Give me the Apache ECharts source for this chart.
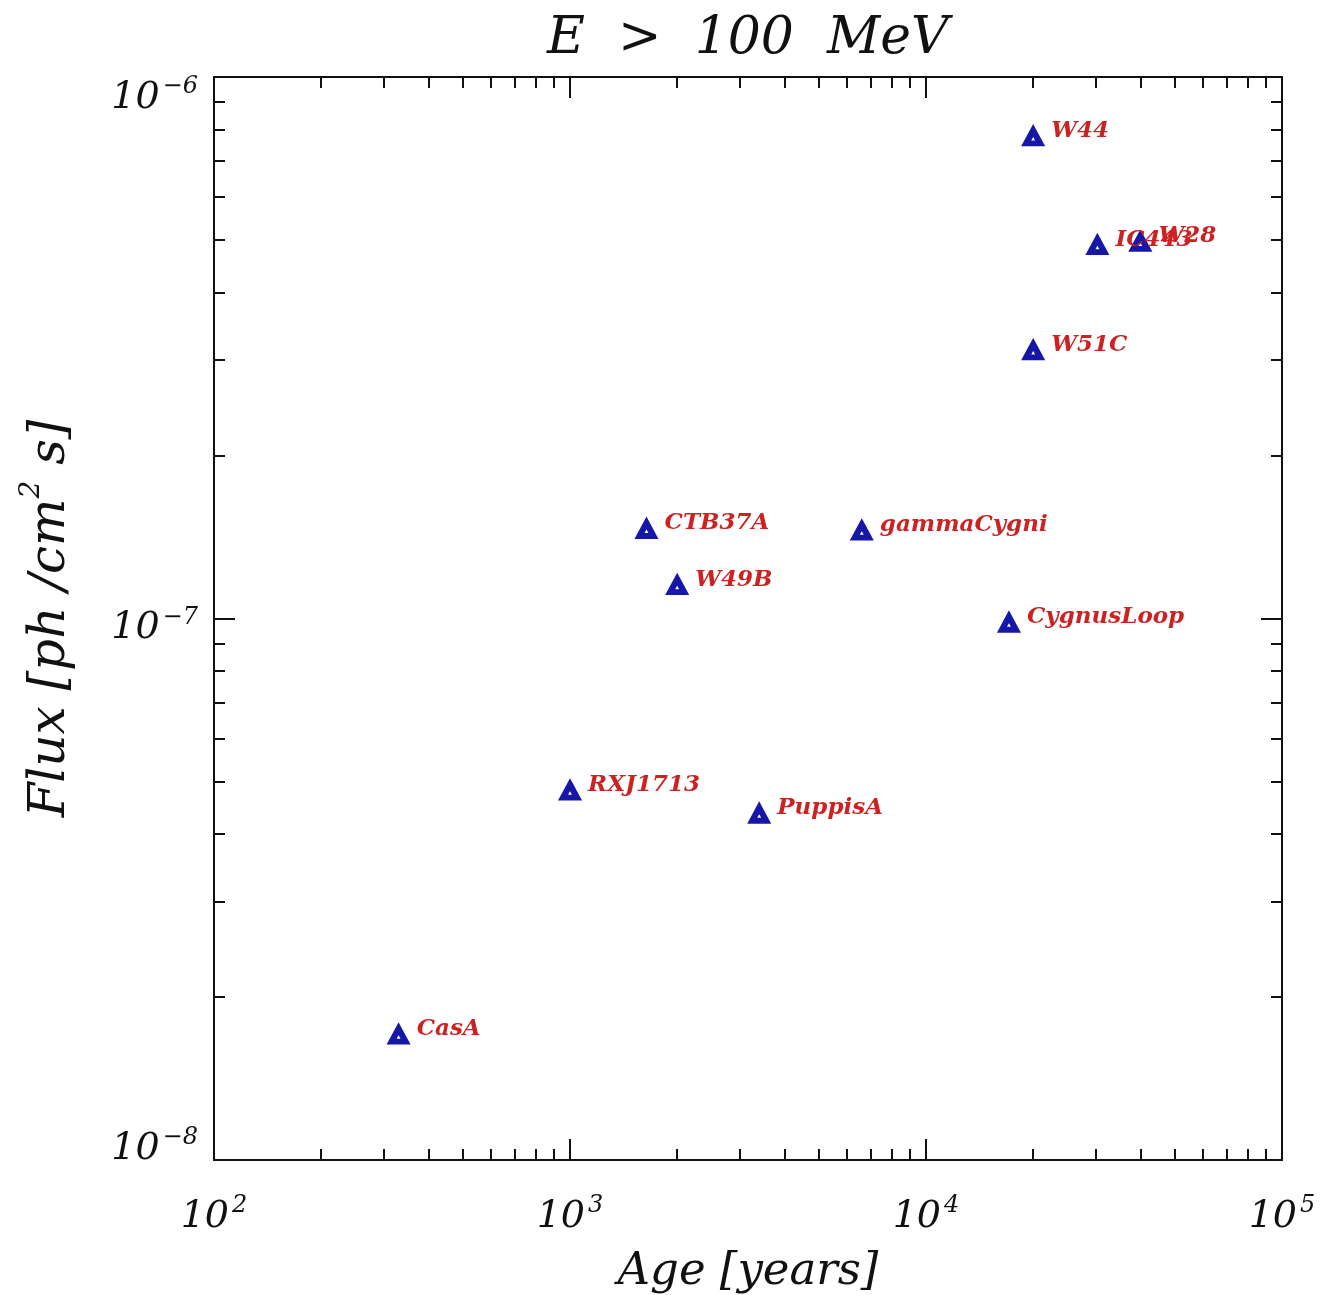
<!DOCTYPE html>
<html>
<head>
<meta charset="utf-8">
<title>E &gt; 100 MeV</title>
<script src="https://cdn.jsdelivr.net/npm/echarts@6/dist/echarts.min.js"></script>
<style>
  html, body { margin: 0; padding: 0; background: #ffffff; }
  #chart { width: 1338px; height: 1295px; }
</style>
</head>
<body>
<div id="chart"></div>
<script>
// Supernova remnants: age (years) vs. gamma-ray flux above 100 MeV (ph / cm^2 s)
const names  = ['CasA', 'RXJ1713', 'PuppisA', 'CTB37A', 'W49B', 'gammaCygni', 'CygnusLoop', 'W44', 'IC443', 'W28', 'W51C'];
const ages   = [330, 1000, 3400, 1640, 2000, 6600, 17100, 20000, 30300, 40000, 20000];
const fluxes = [1.7e-8, 4.8e-8, 4.35e-8, 1.46e-7, 1.15e-7, 1.45e-7, 9.8e-8, 7.75e-7, 4.88e-7, 4.95e-7, 3.12e-7];

// Tick values of the log axes
const xMajorTicks = [1e2, 1e3, 1e4, 1e5];
const xMinorTicks = [200, 300, 400, 500, 600, 700, 800, 900,
                     2000, 3000, 4000, 5000, 6000, 7000, 8000, 9000,
                     20000, 30000, 40000, 50000, 60000, 70000, 80000, 90000];
const yMajorTicks = [1e-8, 1e-7, 1e-6];
const yMinorTicks = [2e-8, 3e-8, 4e-8, 5e-8, 6e-8, 7e-8, 8e-8, 9e-8,
                     2e-7, 3e-7, 4e-7, 5e-7, 6e-7, 7e-7, 8e-7, 9e-7];

const FONT = 'DejaVu Serif';
const INK = '#111111';

function expOf(v) { return Math.round(Math.log10(v)); }
function expText(e) { return e < 0 ? '\u2212' + (-e) : String(e); }

// power-of-ten labels: "10" with a raised exponent; the gN styles are blank
// spacer lines used to nudge the y labels up or down against their ticks
const powRich = {
  b:   { fontFamily: FONT, fontStyle: 'italic', fontSize: 38, color: INK, lineHeight: 42, verticalAlign: 'bottom' },
  s:   { fontFamily: FONT, fontStyle: 'italic', fontSize: 24, color: INK, lineHeight: 42, verticalAlign: 'top', padding: [0, 0, 0, 3] },
  g38: { fontSize: 10, lineHeight: 38 },
  g16: { fontSize: 10, lineHeight: 16 },
  g26: { fontSize: 10, lineHeight: 26 }
};

const nameRich = {
  n: { fontFamily: FONT, fontStyle: 'italic', fontSize: 50, color: INK, lineHeight: 58, verticalAlign: 'bottom' },
  p: { fontFamily: FONT, fontStyle: 'italic', fontSize: 28, color: INK, lineHeight: 58, verticalAlign: 'top' }
};

const grid = { left: 214, top: 77, width: 1068, height: 1083, containLabel: false, outerBoundsMode: 'none' };

function frameAxis(base, extra) { return Object.assign({}, base, extra); }

const xBase = { type: 'log', logBase: 10, min: 100, max: 100000, gridIndex: 0, splitLine: { show: false }, axisPointer: { show: false } };
const yBase = { type: 'log', logBase: 10, min: 1e-8, max: 1e-6, gridIndex: 0, splitLine: { show: false }, axisPointer: { show: false } };
const line = { show: true, onZero: false, lineStyle: { color: INK, width: 2 } };
const noLine = { show: false };
const majorTick = { show: true, inside: true, length: 21, lineStyle: { color: INK, width: 2 }, customValues: xMajorTicks };
const minorTick = { show: true, inside: true, length: 11, lineStyle: { color: INK, width: 2 }, customValues: xMinorTicks };

const xAxes = [
  frameAxis(xBase, {
    position: 'bottom', axisLine: line,
    axisTick: majorTick,
    axisLabel: {
      show: true, margin: 34, rich: powRich, customValues: xMajorTicks,
      formatter: v => '{b|10}{s|' + expText(expOf(v)) + '}'
    },
    name: 'Age [years]', nameLocation: 'middle', nameGap: 90,
    nameTextStyle: { fontFamily: FONT, fontStyle: 'italic', fontSize: 45, color: INK }
  }),
  frameAxis(xBase, { position: 'bottom', axisLine: noLine, axisLabel: { show: false }, axisTick: minorTick }),
  frameAxis(xBase, { position: 'top', axisLine: line, axisLabel: { show: false }, axisTick: majorTick }),
  frameAxis(xBase, { position: 'top', axisLine: noLine, axisLabel: { show: false }, axisTick: minorTick })
];

const yMajor = Object.assign({}, majorTick, { customValues: yMajorTicks });
const yMinor = Object.assign({}, minorTick, { customValues: yMinorTicks });

const yAxes = [
  frameAxis(yBase, {
    position: 'left', axisLine: line,
    axisTick: yMajor,
    axisLabel: {
      show: true, margin: 16, rich: powRich, customValues: yMajorTicks,
      formatter: v => {
        const e = expOf(v);
        const body = '{b|10}{s|' + expText(e) + '}';
        if (e === -6) return '{g38| }\n' + body;
        if (e === -8) return body + '\n{g26| }';
        return '{g16| }\n' + body;
      }
    },
    name: '{n|Flux [ph /cm}{p|2}{n| s]}', nameLocation: 'middle', nameGap: 138,
    nameTextStyle: { rich: nameRich }
  }),
  frameAxis(yBase, { position: 'left', axisLine: noLine, axisLabel: { show: false }, axisTick: yMinor }),
  frameAxis(yBase, { position: 'right', axisLine: line, axisLabel: { show: false }, axisTick: yMajor }),
  frameAxis(yBase, { position: 'right', axisLine: noLine, axisLabel: { show: false }, axisTick: yMinor })
];

const points = ages.map((a, i) => [a, fluxes[i]]);

const chart = echarts.init(document.getElementById('chart'), null, { renderer: 'canvas' });
chart.setOption({
  backgroundColor: '#ffffff',
  animation: false,
  title: {
    text: 'E  >  100  MeV',
    left: 542,
    top: 8,
    textStyle: { fontFamily: FONT, fontStyle: 'italic', fontWeight: 'normal', fontSize: 52, color: INK }
  },
  grid: grid,
  xAxis: xAxes,
  yAxis: yAxes,
  series: [{
    type: 'scatter',
    xAxisIndex: 0,
    yAxisIndex: 0,
    data: points,
    symbol: 'triangle',
    symbolSize: [14, 13],
    itemStyle: { color: '#ffffff', borderColor: '#1616a8', borderWidth: 6, opacity: 1 },
    label: {
      show: true,
      position: 'right',
      distance: 8,
      offset: [0, -6],
      formatter: p => names[p.dataIndex],
      fontFamily: FONT,
      fontStyle: 'italic',
      fontWeight: 'bold',
      fontSize: 23,
      color: '#cc2222'
    },
    emphasis: { disabled: true }
  }]
});
</script>
</body>
</html>
